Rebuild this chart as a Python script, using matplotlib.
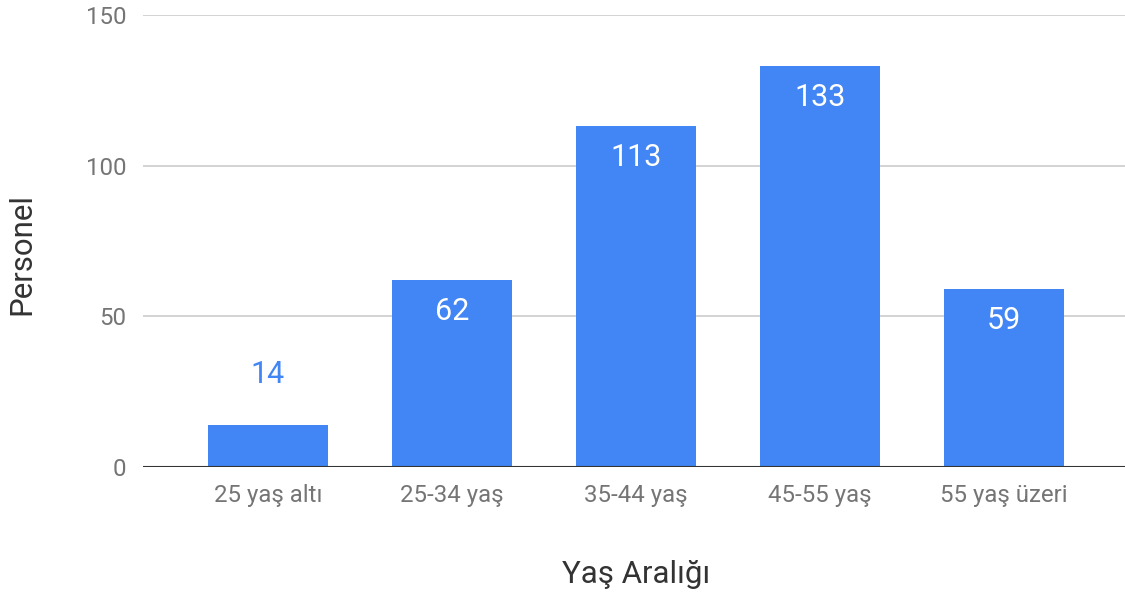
import matplotlib.pyplot as plt

plt.rcParams['font.family'] = ['Roboto', 'DejaVu Sans']

categories = ['25 yaş altı', '25-34 yaş', '35-44 yaş', '45-55 yaş', '55 yaş üzeri']
personel = [14, 62, 113, 133, 59]

bar_color = '#4285F4'

fig = plt.figure(figsize=(11.25, 6.01), dpi=100)
ax = fig.add_axes([0.1271, 0.2230, 0.8729, 0.7521])

x = list(range(len(categories)))
ax.bar(x, personel, width=0.652, color=bar_color, zorder=3)

for xi, v in zip(x, personel):
    if v < 30:
        ax.annotate(str(v), (xi, v), xytext=(0, 50), textcoords='offset pixels',
                    ha='center', va='center', fontsize=22, color=bar_color)
    else:
        ax.annotate(str(v), (xi, v), xytext=(0, -31), textcoords='offset pixels',
                    ha='center', va='center', fontsize=22, color='white', zorder=4)

ax.set_ylim(0, 150)
ax.set_xlim(-0.679, 4.658)
ax.set_yticks([0, 50, 100, 150])
ax.set_xticks(x)
ax.set_xticklabels(categories)
ax.grid(axis='y', color='#cccccc', linewidth=1.2, zorder=0)
ax.axhline(0, color='#333333', linewidth=1.5, zorder=5)

for s in ax.spines.values():
    s.set_visible(False)
ax.tick_params(length=0, labelsize=17.3, labelcolor='#757575')
ax.tick_params(axis='y', pad=12)
ax.tick_params(axis='x', pad=12)

# axis titles placed in figure coords
fig.text(0.5653, 0.0433, 'Yaş Aralığı', fontsize=22.5, color='#333333',
         ha='center', va='center')
fig.text(0.0196, 0.577, 'Personel', fontsize=22.5, color='#333333',
         ha='center', va='center', rotation=90)

plt.savefig('out.png', dpi=100)
